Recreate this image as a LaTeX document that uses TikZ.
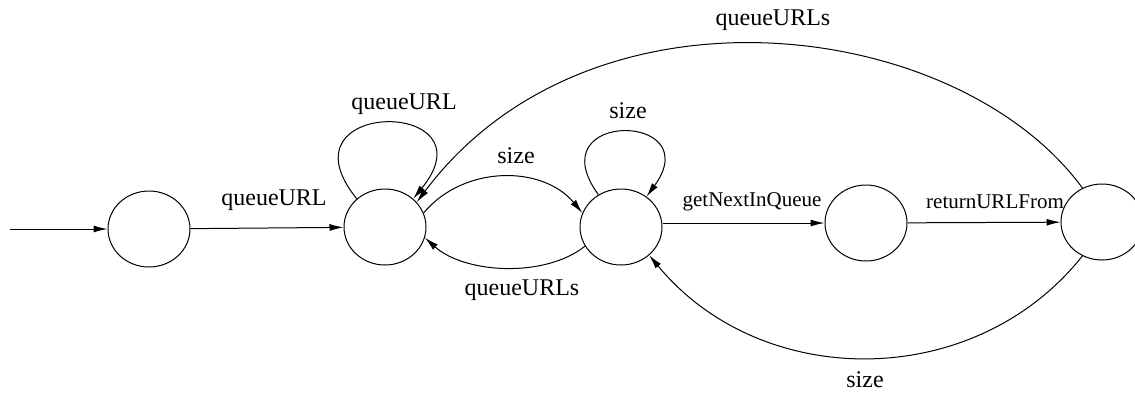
\documentclass[tikz,border=0pt]{standalone}
\usepackage{fontspec}
\setmainfont{Liberation Serif}
\usetikzlibrary{shapes.geometric,arrows.meta}

\begin{document}
\begin{tikzpicture}[x=0.5pt,y=-0.5pt,line width=0.5pt,
  state/.style={draw,ellipse,minimum width=41pt,minimum height=38pt,inner sep=0pt},
  trans/.style={-{Latex[length=7pt,width=3.5pt]}},
  biglbl/.style={font=\fontsize{12}{14}\selectfont,inner sep=0pt},
  smalllbl/.style={font=\fontsize{10.5}{12}\selectfont,inner sep=0pt}]

\useasboundingbox (0,0) rectangle (1135,392);

\coordinate (init) at (10,229);

\node[state] (s1) at (149,229) {};
\node[state] (s2) at (385,227) {};
\node[state] (s3) at (621,227) {};
\node[state] (s4) at (866,223) {};
\node[state] (s5) at (1102,222) {};

\draw[trans] (init) -- (s1);
\draw[trans] (s1) -- (s2);
\draw[trans] (s2.135) .. controls +(-82,-101) and +(82,-101) .. (s2.45);
\draw[trans] (s2.20) .. controls +(40,-48) and +(-40,-48) .. (s3.160);
\draw[trans] (s3.208) .. controls +(-40,32) and +(40,36) .. (s2.-15);
\draw[trans] (s3.125) .. controls +(-62,-85) and +(62,-85) .. (s3.50);
\draw[trans] (s3.east |- s4) -- (s4.west);
\draw[trans] (s4) -- (s5);
\draw[trans] (s5.240) .. controls +(-108,136) and +(112,136) .. (s3.-45);
\draw[trans] (s5.120) .. controls +(-124,-170) and +(174,-232) .. (s2.38);

\node[biglbl] (l12) at (274,200) {queueURL};
\node[biglbl] (l22) at (404,104) {queueURL};
\node[biglbl] (l23) at (516,156) {size};
\node[biglbl] (l32) at (522,290) {queueURLs};
\node[biglbl] (l33) at (628,111) {size};
\node[smalllbl] (l34) at (752,202) {getNextInQueue};
\node[smalllbl] (l45) at (995,202) {returnURLFrom};
\node[biglbl] (l53) at (865,380) {size};
\node[biglbl] (l52) at (773,20) {queueURLs};

\end{tikzpicture}
\end{document}
